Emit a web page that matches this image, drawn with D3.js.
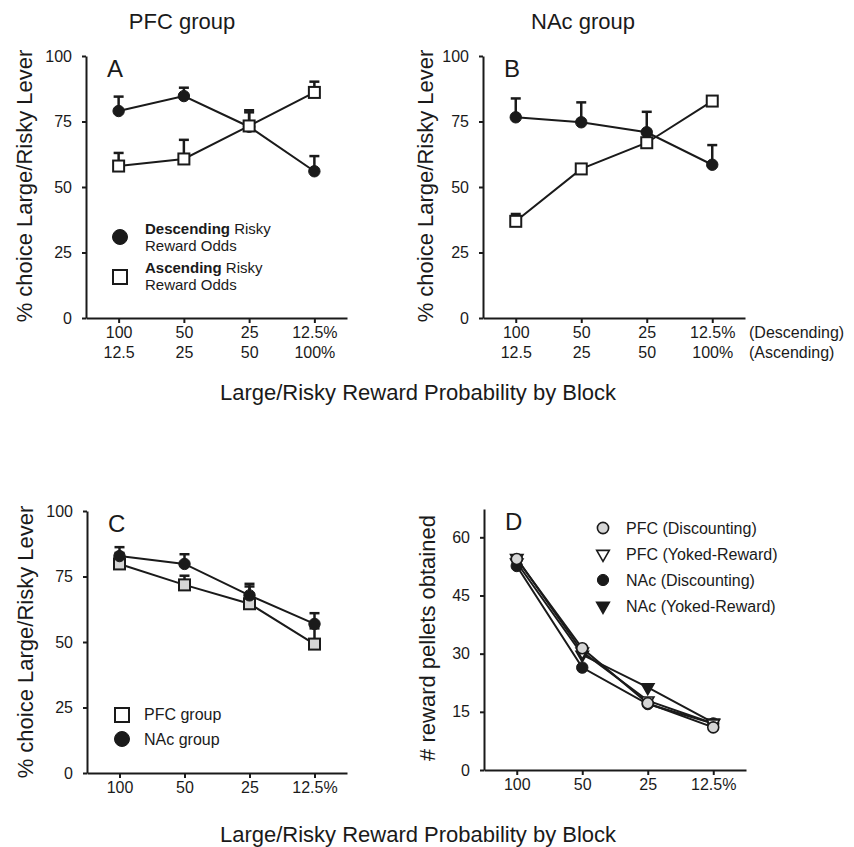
<!DOCTYPE html>
<html>
<head>
<meta charset="utf-8">
<script src="https://cdn.jsdelivr.net/npm/d3@7"></script>
<style>
  body { margin: 0; background: #fff; }
  svg { font-family: "Liberation Sans", Arial, sans-serif; }
  .axis path, .axis line { stroke: #1a1a1a; stroke-width: 2; }
  .axis text { font-size: 16px; fill: #1a1a1a; }
</style>
</head>
<body>
<script>
var width = 854, height = 847;

// blocks (descending order of odds / ascending order underneath)
var blocks = ["100", "50", "25", "12.5%"];
var blocksAsc = ["12.5", "25", "50", "100%"];
var pctTicks = [0, 25, 50, 75, 100];
var pelletTicks = [0, 15, 30, 45, 60];

// panel A: PFC group
var pfcDesc = [79, 84.7, 73, 56];
var pfcDescSem = [5.5, 3.2, 5.5, 5.8];
var pfcAsc = [58, 60.7, 73.3, 86.1];
var pfcAscSem = [5, 7.3, 6, 4.1];

// panel B: NAc group
var nacDesc = [76.6, 74.7, 70.9, 58.5];
var nacDescSem = [7.2, 7.6, 7.8, 7.5];
var nacAsc = [36.9, 56.9, 66.9, 82.8];
var nacAscSem = [2.8, 1.2, 1.5, 1.2];

// panel C: groups collapsed over order
var pfcAll = [79.8, 71.8, 64.6, 49.2];
var pfcAllSem = [4.2, 3.5, 6.6, 6];
var nacAll = [82.8, 79.8, 67.8, 56.9];
var nacAllSem = [3.4, 3.7, 4.4, 4.1];

// panel D: reward pellets obtained
var pfcDisc = [54.4, 31.4, 17.2, 11.0];
var pfcYoked = [54.6, 30.5, 17.9, 12.0];
var nacDisc = [52.6, 26.4, 17.0, 12.0];
var nacYoked = [53.5, 29.7, 21.3, 12.2];

var svg = d3.select("body").append("svg")
    .attr("width", width)
    .attr("height", height);

var ink = "#1a1a1a";

function makePanel(o) {
  var x = d3.scalePoint().domain(blocks).range([o.left, o.right]).padding(0.5);
  var y = d3.scaleLinear().domain(o.domain).range([o.bottom, o.top]);

  var xa = svg.append("g").attr("class", "axis")
      .attr("transform", "translate(0," + o.bottom + ")")
      .call(d3.axisBottom(x).tickSize(5).tickSizeOuter(0).tickPadding(4));
  if (o.twoLine) {
    xa.selectAll(".tick text").each(function(d, i) {
      var t = d3.select(this).text("");
      t.append("tspan").attr("x", 0).text(blocks[i]);
      t.append("tspan").attr("x", 0).attr("dy", 20).text(blocksAsc[i]);
    });
  }
  svg.append("g").attr("class", "axis")
      .attr("transform", "translate(" + o.left + ",0)")
      .call(d3.axisLeft(y).tickValues(o.ticks).tickSize(4).tickSizeOuter(0).tickPadding(10));

  svg.append("text")
      .attr("x", o.left + 21).attr("y", o.top + 21)
      .style("font-size", "24px").style("fill", ink)
      .text(o.letter);

  svg.append("text")
      .attr("transform", "translate(" + o.ylabX + "," + o.ylabY + ") rotate(-90)")
      .attr("text-anchor", "middle")
      .attr("dy", "0.35em")
      .style("font-size", "22px").style("fill", ink)
      .text(o.ylabel);

  return { x: x, y: y };
}

function drawLine(p, vals) {
  var line = d3.line()
      .x(function(d, i) { return p.x(blocks[i]); })
      .y(function(d) { return p.y(d); });
  svg.append("path").datum(vals)
      .attr("d", line)
      .attr("fill", "none")
      .attr("stroke", ink)
      .attr("stroke-width", 2);
}

function drawErr(p, vals, sem) {
  var g = svg.append("g");
  vals.forEach(function(v, i) {
    var cx = p.x(blocks[i]);
    g.append("line")
        .attr("x1", cx).attr("x2", cx)
        .attr("y1", p.y(v)).attr("y2", p.y(v + sem[i]))
        .attr("stroke", ink).attr("stroke-width", 2.5);
    g.append("line")
        .attr("x1", cx - 5).attr("x2", cx + 5)
        .attr("y1", p.y(v + sem[i])).attr("y2", p.y(v + sem[i]))
        .attr("stroke", ink).attr("stroke-width", 2.5);
  });
}

function marker(g, kind, cx, cy, s) {
  if (kind == "circle" || kind == "greyCircle") {
    g.append("circle").attr("cx", cx).attr("cy", cy).attr("r", s)
        .attr("fill", kind == "circle" ? ink : "#d6d6d6")
        .attr("stroke", ink).attr("stroke-width", kind == "circle" ? 1 : 1.6);
  } else if (kind == "square" || kind == "greySquare") {
    g.append("rect").attr("x", cx - s).attr("y", cy - s)
        .attr("width", 2 * s).attr("height", 2 * s)
        .attr("fill", kind == "square" ? "#fff" : "#d6d6d6")
        .attr("stroke", ink).attr("stroke-width", 2);
  } else {
    var sym = d3.symbol().type(d3.symbolTriangle).size(s * s * 2.2);
    g.append("path").attr("d", sym())
        .attr("transform", "translate(" + cx + "," + cy + ") rotate(180)")
        .attr("fill", kind == "triFill" ? ink : "#fff")
        .attr("stroke", ink).attr("stroke-width", 1.6);
  }
}

function drawMarks(p, vals, kind, s) {
  var g = svg.append("g");
  vals.forEach(function(v, i) { marker(g, kind, p.x(blocks[i]), p.y(v), s); });
}

function legendText(x, y, parts, size) {
  var t = svg.append("text").attr("x", x).attr("y", y)
      .attr("dy", "0.35em").style("font-size", (size || 16) + "px").style("fill", ink);
  parts.forEach(function(pt) {
    t.append("tspan").style("font-weight", pt[1] ? "bold" : "normal").text(pt[0]);
  });
  return t;
}

// titles
svg.append("text").attr("x", 182).attr("y", 29).attr("text-anchor", "middle")
    .style("font-size", "22px").style("fill", ink).text("PFC group");
svg.append("text").attr("x", 583).attr("y", 29).attr("text-anchor", "middle")
    .style("font-size", "22px").style("fill", ink).text("NAc group");

// Panel A
var pA = makePanel({ left: 86, right: 347, top: 56, bottom: 318, domain: [0, 100], ticks: pctTicks,
  letter: "A", twoLine: true, ylabel: "% choice Large/Risky Lever", ylabX: 24, ylabY: 186 });
drawErr(pA, pfcDesc, pfcDescSem);
drawErr(pA, pfcAsc, pfcAscSem);
drawLine(pA, pfcDesc);
drawLine(pA, pfcAsc);
drawMarks(pA, pfcDesc, "circle", 5.7);
drawMarks(pA, pfcAsc, "square", 5.5);

var lg = svg.append("g");
marker(lg, "circle", 120, 237, 7.5);
marker(lg, "square", 120, 277, 7);
legendText(145, 229, [["Descending", true], [" Risky", false]], 15);
legendText(145, 246, [["Reward Odds", false]], 15);
legendText(145, 268, [["Ascending", true], [" Risky", false]], 15);
legendText(145, 285, [["Reward Odds", false]], 15);

// Panel B
var pB = makePanel({ left: 483, right: 745, top: 56, bottom: 318, domain: [0, 100], ticks: pctTicks,
  letter: "B", twoLine: true, ylabel: "% choice Large/Risky Lever", ylabX: 425, ylabY: 186 });
drawErr(pB, nacDesc, nacDescSem);
drawErr(pB, nacAsc, nacAscSem);
drawLine(pB, nacDesc);
drawLine(pB, nacAsc);
drawMarks(pB, nacDesc, "circle", 5.7);
drawMarks(pB, nacAsc, "square", 5.5);

svg.append("text").attr("x", 749).attr("y", 338).style("font-size", "16px").style("fill", ink).text("(Descending)");
svg.append("text").attr("x", 749).attr("y", 358).style("font-size", "16px").style("fill", ink).text("(Ascending)");

svg.append("text").attr("x", 418).attr("y", 400).attr("text-anchor", "middle")
    .style("font-size", "22px").style("fill", ink).text("Large/Risky Reward Probability by Block");

// Panel C
var pC = makePanel({ left: 87, right: 347, top: 511, bottom: 773, domain: [0, 100], ticks: pctTicks,
  letter: "C", twoLine: false, ylabel: "% choice Large/Risky Lever", ylabX: 25, ylabY: 642 });
drawErr(pC, pfcAll, pfcAllSem);
drawErr(pC, nacAll, nacAllSem);
drawLine(pC, pfcAll);
drawLine(pC, nacAll);
drawMarks(pC, pfcAll, "greySquare", 5.5);
drawMarks(pC, nacAll, "circle", 5.7);

var lc = svg.append("g");
marker(lc, "square", 122, 715, 7);
marker(lc, "circle", 122, 739, 7.5);
legendText(144, 714, [["PFC group", false]]);
legendText(144, 739, [["NAc group", false]]);

// Panel D
var pD = makePanel({ left: 484, right: 746, top: 509, bottom: 770, domain: [0, 67.3], ticks: pelletTicks,
  letter: "D", twoLine: false, ylabel: "# reward pellets obtained", ylabX: 427, ylabY: 638 });
drawLine(pD, nacYoked);
drawLine(pD, nacDisc);
drawLine(pD, pfcYoked);
drawLine(pD, pfcDisc);
drawMarks(pD, nacYoked, "triFill", 5.5);
drawMarks(pD, nacDisc, "circle", 5.7);
drawMarks(pD, pfcYoked, "triOpen", 5.5);
drawMarks(pD, pfcDisc, "greyCircle", 5.5);

var dNames = ["PFC (Discounting)", "PFC (Yoked-Reward)", "NAc (Discounting)", "NAc (Yoked-Reward)"];
var dKinds = ["greyCircle", "triOpen", "circle", "triFill"];
var ld = svg.append("g");
dNames.forEach(function(n, i) {
  var yy = 528 + i * 26;
  marker(ld, dKinds[i], 603, yy, 5.6);
  legendText(626, yy, [[n, false]]);
});

svg.append("text").attr("x", 418).attr("y", 842).attr("text-anchor", "middle")
    .style("font-size", "22px").style("fill", ink).text("Large/Risky Reward Probability by Block");
</script>
</body>
</html>
